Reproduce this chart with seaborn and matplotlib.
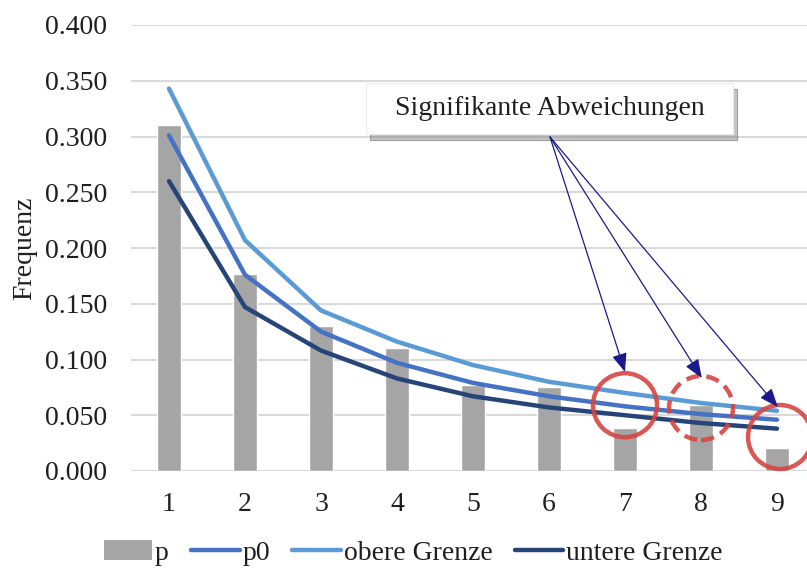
import numpy as np
import pandas as pd
import matplotlib
matplotlib.use("Agg")
import matplotlib.pyplot as plt
import seaborn as sns
from matplotlib.patches import Ellipse, Rectangle, Patch, Shadow
from matplotlib.lines import Line2D

# ---- data ----
digits = ["1", "2", "3", "4", "5", "6", "7", "8", "9"]
p = [0.310, 0.177, 0.130, 0.110, 0.077, 0.075, 0.039, 0.059, 0.021]
p0 = [0.301, 0.176, 0.125, 0.097, 0.079, 0.067, 0.058, 0.051, 0.046]
obere = [0.343, 0.207, 0.144, 0.116, 0.095, 0.080, 0.070, 0.061, 0.054]
untere = [0.260, 0.147, 0.108, 0.083, 0.067, 0.057, 0.050, 0.043, 0.038]
yticks = [0.0, 0.05, 0.10, 0.15, 0.20, 0.25, 0.30, 0.35, 0.40]
callout_text = "Signifikante Abweichungen"

sns.set_theme(style="white")
plt.rcParams["font.family"] = ["Liberation Serif", "DejaVu Serif"]

FS = 20
C_BAR = "#A5A5A5"
C_P0 = "#4472C4"
C_UP = "#5B9BD5"
C_LO = "#264478"
C_RED = "#D64541"
C_ARROW = "#1A1A8C"
C_TXT = "#1F1F1F"

fig = plt.figure(figsize=(8.07, 5.69), dpi=100)
W, H = 807, 569
left, right = 131, 807
bottom, top = 471, 25
ax = fig.add_axes([left / W, 1 - bottom / H, (right - left) / W, (bottom - top) / H])

df = pd.DataFrame({"digit": digits, "p": p})
sns.barplot(data=df, x="digit", y="p", color=C_BAR, width=0.31, saturation=1,
            ax=ax, zorder=2)

lines_df = pd.DataFrame({"pos": np.arange(len(digits)), "p0": p0,
                         "obere": obere, "untere": untere})
for col, c in [("untere", C_LO), ("obere", C_UP), ("p0", C_P0)]:
    sns.lineplot(data=lines_df, x="pos", y=col, color=c, linewidth=3.2,
                 ax=ax, zorder=3, solid_capstyle="round")

xmax = 8.5 - 8 / 76
ax.set_xlim(-0.5, xmax)
ax.set_ylim(0, 0.4)
ax.set_yticks(yticks)
ax.set_yticklabels([f"{v:.3f}" for v in yticks], fontsize=FS)
ax.set_xticks(np.arange(len(digits)))
ax.set_xticklabels(digits, fontsize=FS)
ax.tick_params(axis="both", length=0, colors=C_TXT)
ax.tick_params(axis="y", pad=17)
ax.tick_params(axis="x", pad=15)
ax.grid(axis="y", color="#D9D9D9", linewidth=1.5, zorder=0)
ax.grid(axis="x", visible=False)
ax.set_axisbelow(True)
for s in ["top", "right", "left", "bottom"]:
    ax.spines[s].set_visible(False)
ax.axhline(0, color="#D9D9D9", linewidth=1.5, zorder=1)
ax.set_xlabel("")
ax.set_ylabel("Frequenz", fontsize=FS, color=C_TXT, labelpad=6)

# ---- circles marking deviations ----
ppx = 76.0          # pixels per category
ppy = 1115.0        # pixels per unit y
circ = [(6, 0.059, "solid"), (7, 0.0565, "dashed"), (8.04, 0.0305, "solid")]
for cx, cy, ls in circ:
    e = Ellipse((cx, cy), width=64 / ppx, height=64 / ppy, fill=False,
                edgecolor=C_RED, linewidth=3.2, alpha=0.9,
                zorder=5, clip_on=False)
    if ls == "dashed":
        e.set_linestyle((0, (3, 1.6)))
    ax.add_patch(e)

# ---- callout box ----
bx0, bx1 = (366 - 169) / ppx, (733 - 169) / ppx
by0, by1 = (471 - 134) / ppy, (471 - 83) / ppy
rect = Rectangle((bx0, by0), bx1 - bx0, by1 - by0, facecolor="white",
                 edgecolor="#EBEBEB", linewidth=0.8, zorder=6)
sh = Shadow(rect, 3 / ppx, -4 / ppy, alpha=0.45, zorder=5.5)
sh.set_facecolor("#7F7F7F")
ax.add_patch(sh)
ax.add_patch(rect)
ax.text((bx0 + bx1) / 2, (by0 + by1) / 2, callout_text, ha="center",
        va="center", fontsize=FS, color=C_TXT, zorder=7)

# ---- arrows ----
start = ((550 - 169) / ppx, (471 - 137) / ppy)
targets = [(6.0, (471 - 372) / ppy), (7.01, (471 - 378) / ppy), (8.01, (471 - 407) / ppy)]
for t in targets:
    ax.annotate("", xy=t, xytext=start, zorder=8,
                arrowprops=dict(arrowstyle="-|>,head_length=0.95,head_width=0.38",
                                color=C_ARROW, linewidth=0.9,
                                shrinkA=0, shrinkB=0))

# ---- legend ----
handles = [Patch(facecolor=C_BAR, edgecolor="none"),
           Line2D([], [], color=C_P0, linewidth=3.2),
           Line2D([], [], color=C_UP, linewidth=3.2),
           Line2D([], [], color=C_LO, linewidth=3.2)]
labels = ["p", "p0", "obere Grenze", "untere Grenze"]
fig.legend(handles, labels, loc="center", bbox_to_anchor=(413 / W, 1 - 553 / H),
           ncol=4, frameon=False, fontsize=FS, handlelength=1.75,
           handletextpad=0.1, columnspacing=0.8, handleheight=0.75,
           labelcolor=C_TXT)

fig.savefig("out.png", dpi=100)
